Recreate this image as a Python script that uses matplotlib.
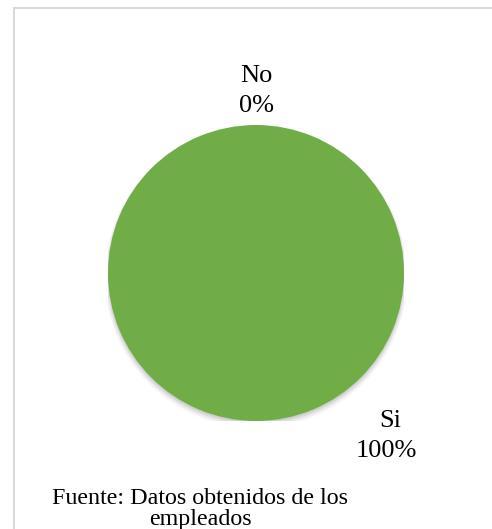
import matplotlib.pyplot as plt
from matplotlib.patches import Rectangle, Circle

categorias = ['Si', 'No']
valores = [100, 0]
porcentajes = ['100%', '0%']
fuente = 'Fuente: Datos obtenidos de los\nempleados'

plt.rcParams['font.family'] = ['Liberation Serif', 'DejaVu Serif']

W, H = 492, 529
fig = plt.figure(figsize=(W / 100, H / 100), dpi=100)

# borde del area del grafico (recortado a la derecha y abajo)
fig.patches.append(Rectangle((13.5 / W, -0.05), 1.0, 1 - 7.5 / H + 0.05,
                             transform=fig.transFigure, fill=False,
                             edgecolor='#D9D9D9', linewidth=1.5))

cx, cy, r = 256, 273, 148
ax = fig.add_axes([(cx - r) / W, (H - cy - r) / H, 2 * r / W, 2 * r / H])
ax.set_xlim(-1, 1)
ax.set_ylim(-1, 1)
ax.set_aspect('equal')
ax.axis('off')

# sombra suave bajo el circulo
for i, a in enumerate([0.05, 0.05, 0.04, 0.03, 0.02]):
    ax.add_patch(Circle((0, -0.012 - i * 0.004), 1.0 + i * 0.006,
                        color='black', alpha=a, lw=0, zorder=0))

ax.pie(valores, colors=['#70AD47', '#ED7D31'], startangle=90,
       counterclock=False, radius=1.0, wedgeprops={'linewidth': 0})

ax.set_xlim(-1, 1)
ax.set_ylim(-1, 1)

ax.text(0, 1.33, categorias[1], ha='center', va='center', fontsize=19)
ax.text(0, 1.13, porcentajes[1], ha='center', va='center', fontsize=19)
ax.text(0.91, -1.0, categorias[0], ha='center', va='center', fontsize=19)
ax.text(0.88, -1.2, porcentajes[0], ha='center', va='center', fontsize=19)

fig.text(200 / W, 1 - 509 / H, fuente, ha='center', va='center',
         fontsize=17.3, linespacing=0.95)

fig.savefig('out.png', dpi=100)
